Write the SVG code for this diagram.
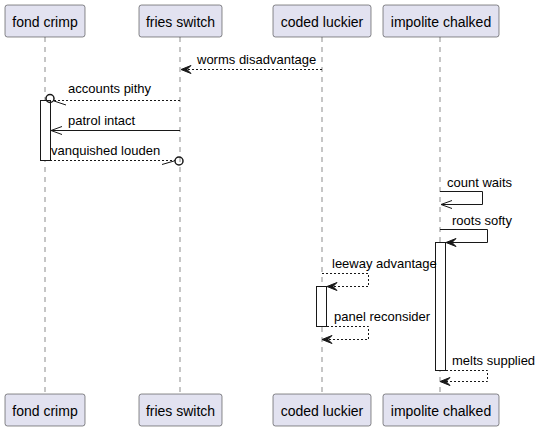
<svg xmlns="http://www.w3.org/2000/svg" width="542" height="431" viewBox="0 0 542 431">
<style>
.box{fill:#E2E2F0;stroke:#181818;stroke-width:0.5}
.pt{font-family:"Liberation Sans",Arial,sans-serif;font-size:14px;fill:#000;text-anchor:middle}
.mt{font-family:"Liberation Sans",Arial,sans-serif;font-size:13px;fill:#000}
.life{stroke:#181818;stroke-width:0.5;stroke-dasharray:5,5;fill:none}
.act{fill:#FFFFFF;stroke:#181818;stroke-width:1}
.sol{stroke:#181818;stroke-width:1;fill:none}
.dash{stroke:#181818;stroke-width:1;fill:none;stroke-dasharray:2,2}
.head{fill:#181818;stroke:#181818;stroke-width:1}
.circ{fill:none;stroke:#181818;stroke-width:1.5}
</style>
<rect width="542" height="431" fill="#FFFFFF"/>
<g id="lifelines">
<line class="life" x1="45" y1="37" x2="45" y2="394"/>
<line class="life" x1="180" y1="37" x2="180" y2="394"/>
<line class="life" x1="322" y1="37" x2="322" y2="394"/>
<line class="life" x1="440" y1="37" x2="440" y2="394"/>
</g>
<g id="activations">
<rect class="act" x="40.5" y="100.5" width="10" height="60"/>
<rect class="act" x="435.5" y="242.5" width="10" height="128"/>
<rect class="act" x="316.5" y="286.5" width="10" height="40"/>
</g>
<g id="p-fond-crimp">
<rect class="box" x="5" y="5" width="80" height="32" rx="2.5"/>
<text class="pt" x="45" y="27">fond crimp</text>
<rect class="box" x="5" y="394" width="80" height="32" rx="2.5"/>
<text class="pt" x="45" y="416">fond crimp</text>
</g>
<g id="p-fries-switch">
<rect class="box" x="139" y="5" width="83" height="32" rx="2.5"/>
<text class="pt" x="180.5" y="27">fries switch</text>
<rect class="box" x="139" y="394" width="83" height="32" rx="2.5"/>
<text class="pt" x="180.5" y="416">fries switch</text>
</g>
<g id="p-coded-luckier">
<rect class="box" x="273" y="5" width="98" height="32" rx="2.5"/>
<text class="pt" x="322" y="27">coded luckier</text>
<rect class="box" x="273" y="394" width="98" height="32" rx="2.5"/>
<text class="pt" x="322" y="416">coded luckier</text>
</g>
<g id="p-impolite-chalked">
<rect class="box" x="383" y="5" width="116" height="32" rx="2.5"/>
<text class="pt" x="441" y="27">impolite chalked</text>
<rect class="box" x="383" y="394" width="116" height="32" rx="2.5"/>
<text class="pt" x="441" y="416">impolite chalked</text>
</g>
<g id="connectors">
<line class="dash" x1="322" y1="69.5" x2="182" y2="69.5"/>
<polygon class="head" points="181,69.5 191,65.5 187,69.5 191,73.5"/>
<text class="mt" x="197" y="64">worms disadvantage</text>
<line class="dash" x1="180" y1="100.5" x2="54" y2="100.5"/>
<circle class="circ" cx="50" cy="98.5" r="4"/>
<line class="sol" x1="54" y1="101" x2="66" y2="105"/>
<text class="mt" x="68" y="93">accounts pithy</text>
<line class="sol" x1="180" y1="130.5" x2="51" y2="130.5"/>
<line class="sol" x1="51" y1="130.5" x2="62" y2="126.5"/>
<line class="sol" x1="51" y1="130.5" x2="62" y2="134.5"/>
<text class="mt" x="68" y="125">patrol intact</text>
<line class="dash" x1="50" y1="160.5" x2="175" y2="160.5"/>
<circle class="circ" cx="179" cy="161" r="4"/>
<line class="sol" x1="162" y1="164.5" x2="174" y2="161"/>
<text class="mt" x="51" y="155">vanquished louden</text>
<polyline class="sol" points="440,191.5 482.5,191.5 482.5,204.5 441,204.5"/>
<line class="sol" x1="441" y1="204.5" x2="452" y2="200.5"/>
<line class="sol" x1="441" y1="204.5" x2="452" y2="208.5"/>
<text class="mt" x="447" y="187">count waits</text>
<polyline class="sol" points="440,229.5 487.5,229.5 487.5,242.5 447,242.5"/>
<polygon class="head" points="446,242.5 456,238.5 452,242.5 456,246.5"/>
<text class="mt" x="452" y="225">roots softy</text>
<polyline class="dash" points="322,273.5 368.5,273.5 368.5,286.5 328,286.5"/>
<polygon class="head" points="327,286.5 337,282.5 333,286.5 337,290.5"/>
<text class="mt" x="332" y="268">leeway advantage</text>
<polyline class="dash" points="327,326.5 368.5,326.5 368.5,339.5 323,339.5"/>
<polygon class="head" points="322,339.5 332,335.5 328,339.5 332,343.5"/>
<text class="mt" x="334" y="321">panel reconsider</text>
<polyline class="dash" points="446,370.5 487.5,370.5 487.5,381.5 441,381.5"/>
<polygon class="head" points="440,381.5 450,377.5 446,381.5 450,385.5"/>
<text class="mt" x="452" y="365">melts supplied</text>
</g>
</svg>
